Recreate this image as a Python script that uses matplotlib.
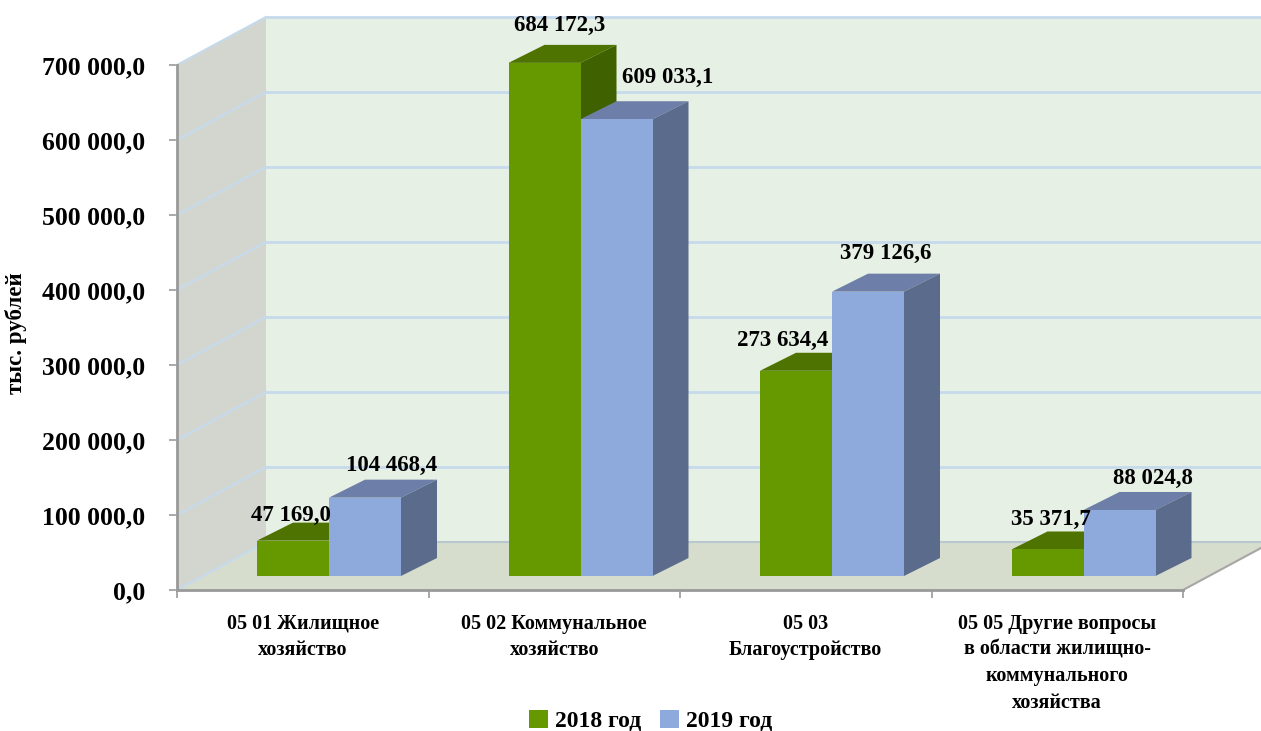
import matplotlib
matplotlib.use('Agg')
import matplotlib.pyplot as plt
from matplotlib.patches import Polygon, Patch
import numpy as np

plt.rcParams['font.family'] = ['Liberation Serif', 'DejaVu Serif']
plt.rcParams['font.weight'] = 'bold'

categories = ['05 01 Жилищное\nхозяйство', '05 02 Коммунальное\nхозяйство',
              '05 03\nБлагоустройство',
              '05 05 Другие вопросы\nв области жилищно-\nкоммунального\nхозяйства']
series_names = ['2018 год', '2019 год']
values_2018 = [47169.0, 684172.3, 273634.4, 35371.7]
values_2019 = [104468.4, 609033.1, 379126.6, 88024.8]
y_ticks = [0, 100000, 200000, 300000, 400000, 500000, 600000, 700000]

# label offsets from the bar's top front centre, in pixels (placed by hand in the original)
offsets_2018 = [(-2, 25), (15, 37), (-13, 30), (3, 30)]
offsets_2019 = [(27, 32), (51, 42), (18, 38), (33, 32)]

W, H = 1261, 731
LEFT, RIGHT, BOTTOM, TOP = 177, 1183, 590, 65  # front plane in pixels
fig = plt.figure(figsize=(W / 100, H / 100), dpi=100)
ax = fig.add_axes([LEFT / W, 1 - BOTTOM / H, (RIGHT - LEFT) / W, (BOTTOM - TOP) / H])
ax.set_xlim(0, 4)
ax.set_ylim(0, 700000)
ax.patch.set_visible(False)

px = 4 / (RIGHT - LEFT)           # one pixel in x units
py = 700000 / (BOTTOM - TOP)      # one pixel in y units
depth_x, depth_y = 89 * px, 48 * py
edge_x = (W - LEFT) * px          # right edge of the picture


def poly(points, color, z, ec='none', lw=0):
    ax.add_patch(Polygon(points, closed=True, facecolor=color, edgecolor=ec, linewidth=lw,
                         zorder=z, clip_on=False))


def box(x0, x1, top, base, front, topc, side):
    dx, dy = 36 * px, 18 * py
    poly([(x0, top), (x0 + dx, top + dy), (x1 + dx, top + dy), (x1, top)], topc, 5)
    poly([(x1, base), (x1 + dx, base + dy), (x1 + dx, top + dy), (x1, top)], side, 5)
    poly([(x0, base), (x1, base), (x1, top), (x0, top)], front, 5)


# walls and floor
poly([(depth_x, depth_y), (edge_x, depth_y), (edge_x, 700000 + depth_y), (depth_x, 700000 + depth_y)], '#E6F0E4', 1)
poly([(0, 0), (depth_x, depth_y), (depth_x, 700000 + depth_y), (0, 700000)], '#D2D6CF', 1)
poly([(0, 0), (4, 0), (4 + 78 * px, 42 * py), (edge_x, depth_y), (depth_x, depth_y)], '#D6DDCD', 2)

# grid
grid_color = '#C6DAEC'
for t in y_ticks:
    if t > 0:
        ax.plot([depth_x, edge_x], [t + depth_y, t + depth_y], color=grid_color, lw=2, zorder=3, clip_on=False)
    ax.plot([0, depth_x], [t, t + depth_y], color=grid_color, lw=1.6, zorder=3, clip_on=False)
ax.plot([depth_x, edge_x], [depth_y, depth_y], color='#B9C7CF', lw=1.5, zorder=3, clip_on=False)
ax.plot([4, 4 + 78 * px], [0, 42 * py], color='#A6A6A6', lw=1.5, zorder=3, clip_on=False)

# bars
bar_w = 72 * px
start_x = 80 * px / 1
base = 14 * py
for i in range(4):
    x0 = i + start_x
    box(x0, x0 + bar_w, values_2018[i] + base, base, '#669900', '#4F7300', '#3F6100')
    box(x0 + bar_w, x0 + 2 * bar_w, values_2019[i] + base, base, '#8EA9DB', '#6D7FA8', '#5B6B8C')
    for val, off, xc in [(values_2018[i], offsets_2018[i], x0 + bar_w / 2),
                         (values_2019[i], offsets_2019[i], x0 + 1.5 * bar_w)]:
        label = f'{val:,.1f}'.replace(',', ' ').replace('.', ',')
        ax.annotate(label, (xc, val + base), xytext=off, textcoords='offset pixels',
                    ha='center', va='center', fontsize=16.5, fontweight='bold', zorder=7,
                    annotation_clip=False)

# axes
for s in ['top', 'right']:
    ax.spines[s].set_visible(False)
for s in ['left', 'bottom']:
    ax.spines[s].set_color('#999999')
    ax.spines[s].set_linewidth(2)
    ax.spines[s].set_zorder(4)
ax.set_yticks(y_ticks)
ax.set_yticklabels([f'{t:,.1f}'.replace(',', ' ').replace('.', ',') for t in y_ticks], fontsize=18.5)
ax.set_xticks(range(5))
ax.set_xticklabels([])
ax.set_xticks(np.arange(4) + 0.5, categories, minor=True, fontsize=14.5, linespacing=1.42, va='top')
ax.tick_params(axis='x', which='minor', length=0, pad=17)
ax.tick_params(axis='both', which='major', color='#999999', length=6, width=1.2)
ax.tick_params(axis='y', pad=17)
ax.set_ylabel('тыс. рублей', fontsize=16.5, fontweight='bold')
ax.yaxis.set_label_coords((27 - LEFT) / (RIGHT - LEFT), (BOTTOM - 333) / (BOTTOM - TOP))

handles = [Patch(facecolor='#669900', label=series_names[0]), Patch(facecolor='#8EA9DB', label=series_names[1])]
fig.legend(handles=handles, loc='center', bbox_to_anchor=(651 / W, 1 - 721 / H), ncol=2, frameon=False,
           prop={'size': 17, 'weight': 'bold'}, handlelength=0.8, handleheight=0.8, handletextpad=0.3,
           columnspacing=0.8, borderpad=0)

fig.savefig('out.png', dpi=100)
